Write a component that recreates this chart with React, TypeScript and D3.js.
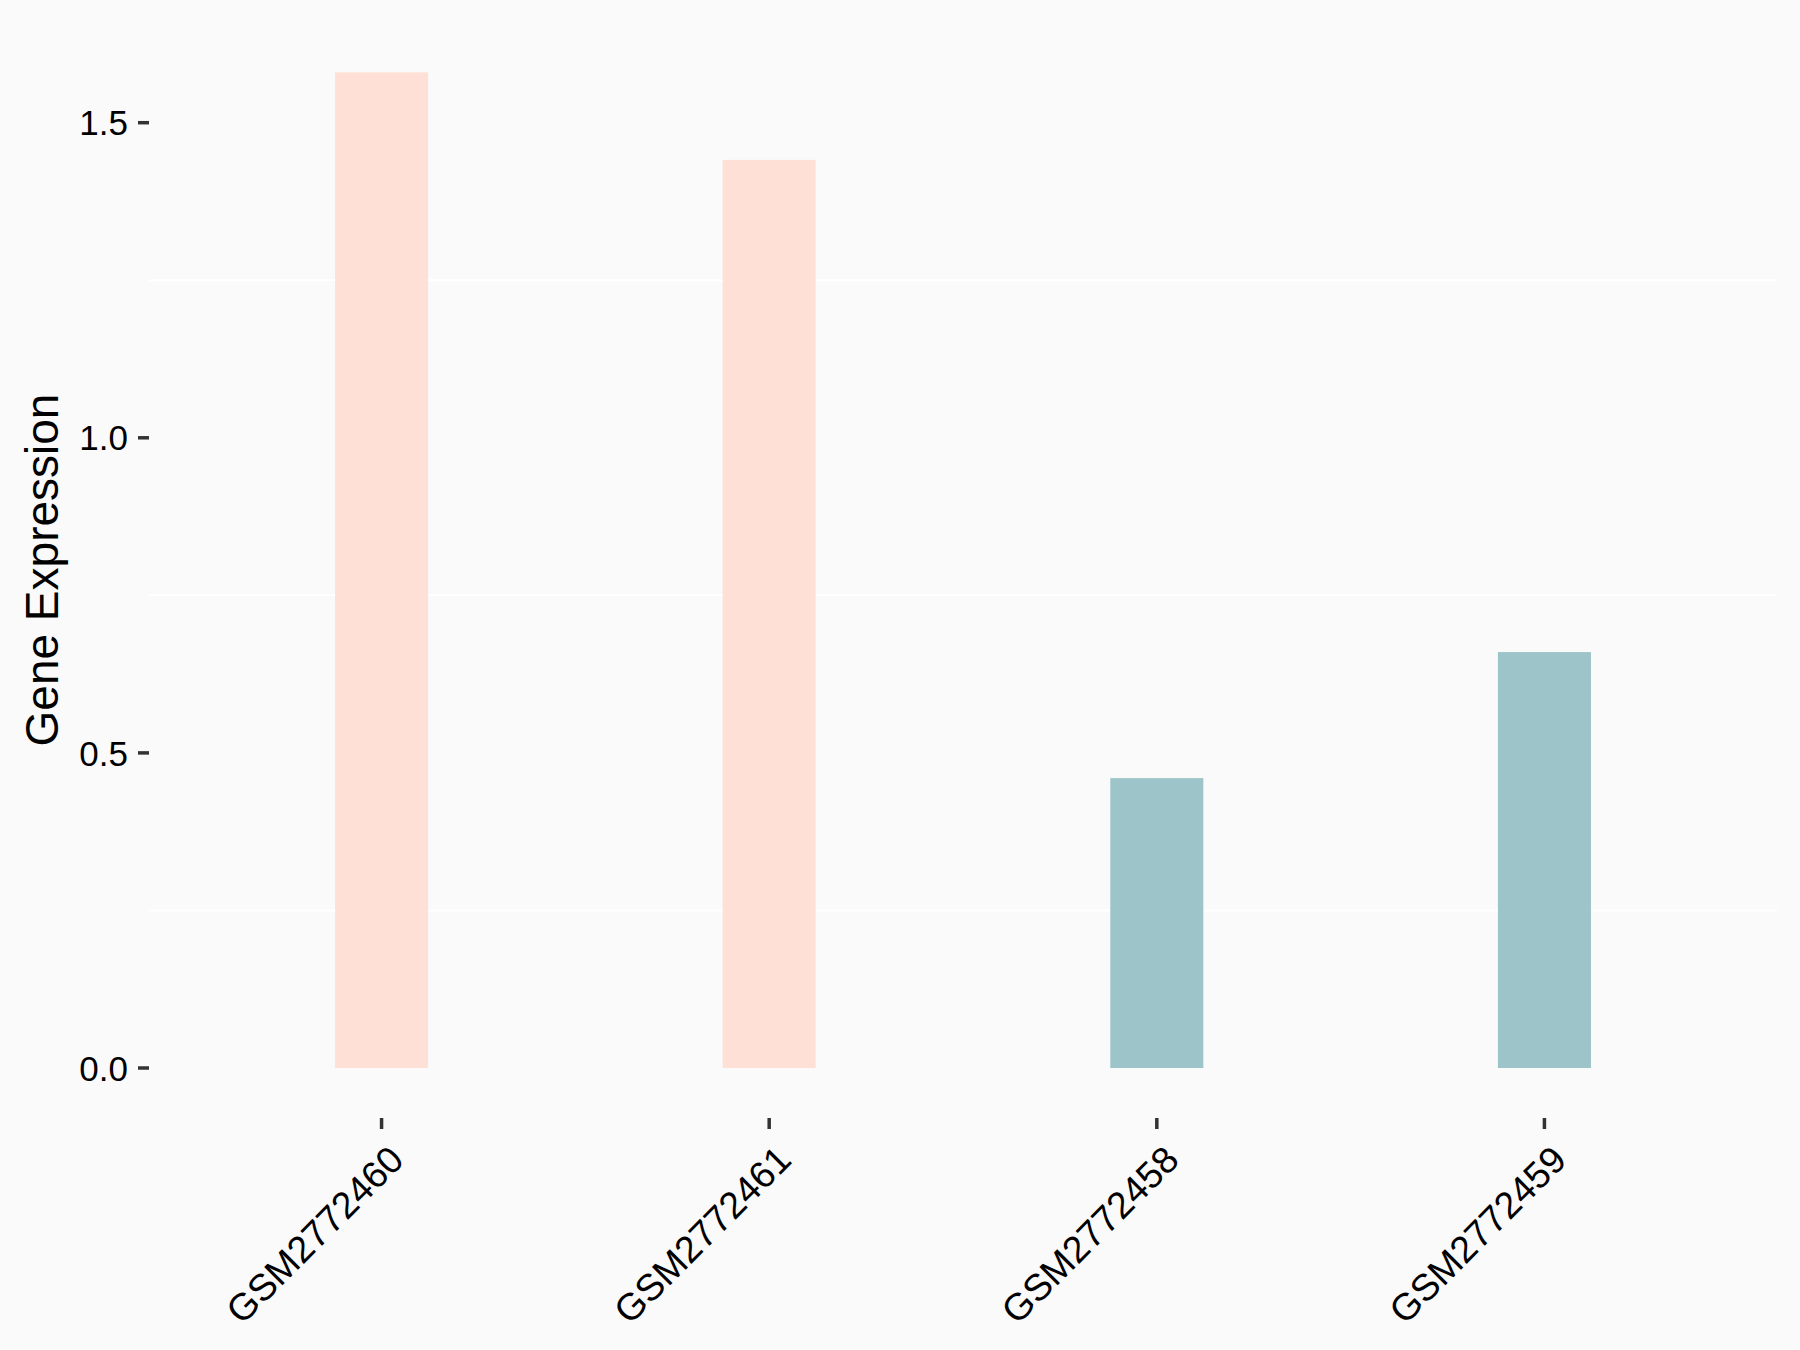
import React from "react";
import * as d3 from "d3";

const samples = ["GSM2772460", "GSM2772461", "GSM2772458", "GSM2772459"];
const values = [1.58, 1.441, 0.46, 0.66];
const groups = ["high", "high", "low", "low"];
const groupColors: Record<string, string> = { high: "#FFE0D6", low: "#9DC4C8" };
const yTicks = [0, 0.5, 1.0, 1.5];
const minorGrid = [0.25, 0.75, 1.25];
const yTitle = "Gene Expression";

const W = 1800;
const H = 1350;
const panelLeft = 149;
const panelRight = 1777;
const panelTop = 22;
const panelBottom = 1118;
const FONT = "'Liberation Sans', Arial, sans-serif";

export default function App() {
  const y = d3.scaleLinear().domain([0, 1.5]).range([1068, 122.7]);
  const x = d3.scalePoint<string>().domain(samples).range([panelLeft, panelRight]).padding(0.6);
  const barW = x.step() * 0.24;

  return (
    <svg width={W} height={H} style={{ display: "block", position: "absolute", left: 0, top: 0 }}>
      <rect x={0} y={0} width={W} height={H} fill="#FAFAFA" />
      {minorGrid.map((g) => (
        <line key={g} x1={panelLeft} x2={panelRight} y1={y(g)} y2={y(g)} stroke="#FFFFFF" strokeWidth={2} />
      ))}
      {samples.map((s, i) => (
        <rect
          key={s}
          x={(x(s) as number) - barW / 2}
          y={y(values[i])}
          width={barW}
          height={y(0) - y(values[i])}
          fill={groupColors[groups[i]]}
        />
      ))}
      {yTicks.map((t) => (
        <g key={t}>
          <line x1={138} x2={149} y1={y(t)} y2={y(t)} stroke="#333333" strokeWidth={3.5} />
          <text
            x={128}
            y={y(t)}
            dy="0.36em"
            textAnchor="end"
            fontFamily={FONT}
            fontSize={35}
            fill="#000"
          >
            {t.toFixed(1)}
          </text>
        </g>
      ))}
      {samples.map((s) => {
        const cx = x(s) as number;
        return (
          <g key={s}>
            <line x1={cx} x2={cx} y1={1118} y2={1129} stroke="#333333" strokeWidth={3.5} />
            <text
              transform={`translate(${cx + 5},1143) rotate(-45)`}
              textAnchor="end"
              dy="0.72em"
              fontFamily={FONT}
              fontSize={37.5}
              fill="#000"
            >
              {s}
            </text>
          </g>
        );
      })}
      <text
        transform={`translate(58,${(panelTop + panelBottom) / 2}) rotate(-90)`}
        textAnchor="middle"
        fontFamily={FONT}
        fontSize={46}
        fill="#000"
      >
        {yTitle}
      </text>
    </svg>
  );
}
